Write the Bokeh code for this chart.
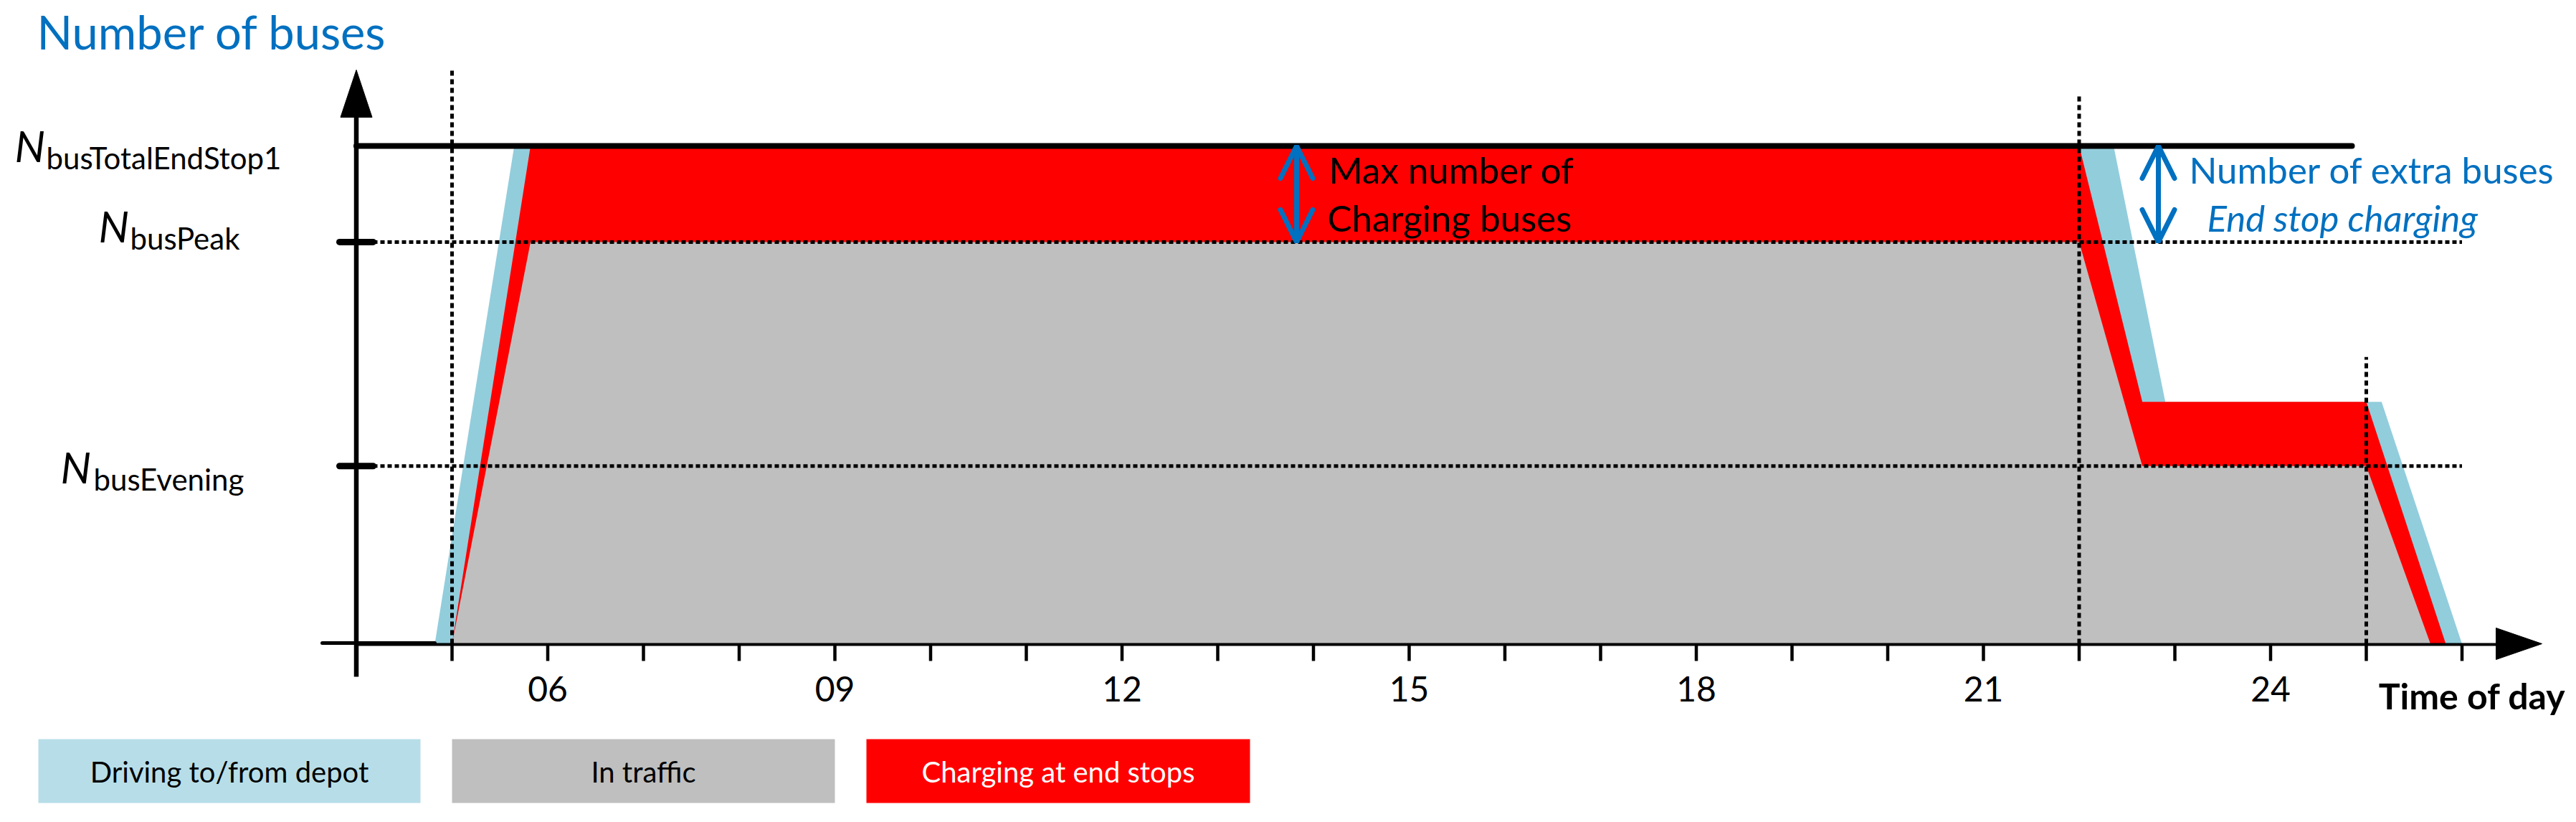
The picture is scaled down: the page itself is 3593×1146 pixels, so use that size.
from bokeh.plotting import figure
from bokeh.models import Range1d, Arrow, OpenHead
from bokeh.core.properties import value
from bokeh.embed import file_html
from bokeh.resources import INLINE

# ---------------- data (hours of day, bus level in % of N_busTotalEndStop1) ----------------
TICK_HOURS = list(range(5, 27))
LABEL_HOURS = [6, 9, 12, 15, 18, 21, 24]
LABEL_TEXTS = ["06", "09", "12", "15", "18", "21", "24"]

N_TOTAL = 100.0          # N_busTotalEndStop1
N_PEAK = 80.7            # N_busPeak
N_EVENING = 35.7         # N_busEvening
N_EVENING_TOTAL = 48.6   # evening level incl. charging buses

driving_x = [4.82, 5.65, 22.36, 22.90, 25.16, 26.00]
driving_y = [0.0, 100.0, 100.0, 48.6, 48.6, 0.0]
charging_x = [5.00, 5.82, 22.00, 22.66, 25.00, 25.83]
charging_y = [0.0, 100.0, 100.0, 48.6, 48.6, 0.0]
traffic_x = [5.00, 5.82, 22.00, 22.66, 25.00, 25.67]
traffic_y = [0.0, 80.7, 80.7, 35.7, 35.7, 0.0]

MARKER_HOURS = [5, 22, 25]
MARKER_TOPS = [115.6, 110.5, 57.6]

LEGEND_LABELS = ["Driving to/from depot", "In traffic", "Charging at end stops"]
LEGEND_FILL = ["#B7DEE8", "#BFBFBF", "#FF0000"]
LEGEND_TEXT = ["black", "black", "white"]

LEVEL_NAMES = ["busTotalEndStop1", "busPeak", "busEvening"]

# ---------------- styling / layout ----------------
BLUE_AREA = "#92CDDC"
RED = "#FF0000"
GRAY = "#BFBFBF"
ANNOT_BLUE = "#0070C0"
FONT = "Lato"

W, H = 3593, 1146
OFF = 0       # page offset of the canvas
PXH = 133.5   # pixels per hour
PXL = 6.94    # pixels per level unit
X0PX, Y0PX = 630, 897   # image pixel of hour 5 / level 0
BASE_SHIFT = 0.37       # baseline correction (fraction of font size)


def hx(px):
    return 5 + (px - X0PX) / PXH


def ly(py):
    return (Y0PX - py) / PXL


def ty(py, fs):
    """text anchor for a wanted baseline pixel py at font size fs"""
    return ly(py - BASE_SHIFT * fs)


p = figure(width=W, height=H, output_backend="svg", toolbar_location=None,
           x_range=Range1d(hx(OFF), hx(OFF + W)), y_range=Range1d(ly(OFF + H), ly(OFF)),
           x_axis_location=None, y_axis_location=None, min_border=0)
p.grid.visible = False
p.outline_line_color = None
p.background_fill_color = "white"
p.border_fill_color = "white"

# areas
p.patch(driving_x, driving_y, fill_color=BLUE_AREA, line_color=None)
p.patch(charging_x, charging_y, fill_color=RED, line_color=None)
p.patch(traffic_x, traffic_y, fill_color=GRAY, line_color=None)

AXIS_HOUR = 4
END_HOUR = 26

# horizontal dotted level lines
for lev in [N_PEAK, N_EVENING]:
    p.segment(x0=[hx(520)], y0=[lev], x1=[END_HOUR], y1=[lev], line_color="black",
              line_width=5, line_dash="6 4")
    p.segment(x0=[hx(473)], y0=[lev], x1=[hx(520)], y1=[lev], line_color="black",
              line_width=9, line_cap="round")

# zero level stub
p.segment(x0=[hx(449)], y0=[ly(896)], x1=[driving_x[0]], y1=[ly(896)], line_color="black",
          line_width=5, line_cap="round")

# vertical dashed markers
p.segment(x0=MARKER_HOURS, y0=[0] * 3, x1=MARKER_HOURS, y1=MARKER_TOPS,
          line_color="black", line_width=5, line_dash="7 5")

# top line
p.segment(x0=[AXIS_HOUR], y0=[N_TOTAL], x1=[hx(3280)], y1=[N_TOTAL], line_color="black",
          line_width=8, line_cap="round")

# axes
p.segment(x0=[AXIS_HOUR], y0=[ly(943)], x1=[AXIS_HOUR], y1=[ly(160)], line_color="black",
          line_width=6.5)
p.patch([AXIS_HOUR - 22 / PXH, AXIS_HOUR, AXIS_HOUR + 22 / PXH], [ly(163), ly(97), ly(163)],
        fill_color="black", line_color="black")
p.segment(x0=[AXIS_HOUR], y0=[ly(898)], x1=[hx(3485)], y1=[ly(898)], line_color="black",
          line_width=4)
p.patch([hx(3481), hx(3545), hx(3481)], [ly(875), ly(897), ly(919)],
        fill_color="black", line_color="black")
p.segment(x0=TICK_HOURS, y0=[ly(898)] * len(TICK_HOURS), x1=TICK_HOURS,
          y1=[ly(921)] * len(TICK_HOURS), line_color="black", line_width=4.5)

# tick labels
p.text(x=LABEL_HOURS, y=[ty(978, 48)] * len(LABEL_HOURS), text=LABEL_TEXTS,
       text_font=value(FONT), text_font_size="48px", text_align="center",
       text_baseline="alphabetic", text_color="black")
p.text(x=[hx(3578)], y=[ty(988, 50)], text=["Time of day"], text_font=value(FONT),
       text_font_size="50px", text_font_style="bold", text_align="right",
       text_baseline="alphabetic", text_color="black")

# title
p.text(x=[hx(51)], y=[ty(68, 65)], text=["Number of buses"], text_font=value(FONT),
       text_font_size="65px", text_color=ANNOT_BLUE, text_baseline="alphabetic")

# level labels
N_pos = [(20, 225, 64, 235), (137, 337, 181, 347), (84, 673, 130, 683)]
for (nx, nb, sx, sb), name in zip(N_pos, LEVEL_NAMES):
    p.text(x=[hx(nx)], y=[ty(nb, 60)], text=["N"], text_font=value(FONT), text_font_size="60px",
           text_font_style="italic", text_baseline="alphabetic", text_color="black")
    p.text(x=[hx(sx)], y=[ty(sb, 42)], text=[name], text_font=value(FONT), text_font_size="42px",
           text_baseline="alphabetic", text_color="black")

# annotations
p.text(x=[hx(1853), hx(1851)], y=[ty(255, 51), ty(322, 51)],
       text=["Max number of", "Charging buses"],
       text_font=value(FONT), text_font_size="51px", text_baseline="alphabetic",
       text_color="black")
p.text(x=[hx(3053)], y=[ty(255, 51)], text=["Number of extra buses"], text_font=value(FONT),
       text_font_size="51px", text_baseline="alphabetic", text_color=ANNOT_BLUE)
p.text(x=[hx(3078)], y=[ty(322, 51)], text=["End stop charging"], text_font=value(FONT),
       text_font_size="51px", text_font_style="italic", text_baseline="alphabetic",
       text_color=ANNOT_BLUE)

for ax in [hx(1808), hx(3010)]:
    p.add_layout(Arrow(x_start=ax, y_start=N_PEAK, x_end=ax, y_end=N_TOTAL,
                       line_color=ANNOT_BLUE, line_width=7,
                       start=OpenHead(size=45, line_color=ANNOT_BLUE, line_width=7, line_cap="round"),
                       end=OpenHead(size=45, line_color=ANNOT_BLUE, line_width=7, line_cap="round")))

# legend boxes
box_l = [hx(53), hx(630), hx(1208)]
box_r = [hx(586), hx(1164), hx(1743)]
p.quad(left=box_l, right=box_r, top=[ly(1030)] * 3, bottom=[ly(1119)] * 3,
       fill_color=LEGEND_FILL, line_color=None)
p.text(x=[(a + b) / 2 for a, b in zip(box_l, box_r)], y=[ty(1090, 40)] * 3, text=LEGEND_LABELS,
       text_font=value(FONT), text_font_size="40px", text_align="center",
       text_baseline="alphabetic", text_color=LEGEND_TEXT)

open("out.html", "w").write(file_html(p, INLINE))
